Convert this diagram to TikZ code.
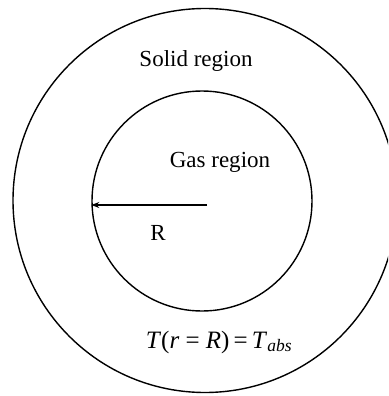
\documentclass[tikz,border=0pt]{standalone}
\usepackage{fontspec}
\setmainfont{Liberation Serif}
\usetikzlibrary{arrows.meta}

\begin{document}
\begin{tikzpicture}[x=1pt,y=-1pt,>={Stealth[length=8pt,width=6pt]},
  every node/.style={font=\fontsize{23}{27}\selectfont},
  region/.style={draw,circle,line width=1.4pt,inner sep=0pt}]
\useasboundingbox (0,0) rectangle (388,396);
\clip (0,0) rectangle (388,396);
% the two regions
\node[region,minimum size=384pt] (solid) at (205,200.5) {};
\node[region,minimum size=220pt] (gas) at (202,201) {};
\coordinate (ctr) at (207,205);
\draw[->,line width=1.1pt] (ctr)--(ctr -| gas.west);
% labels
\node (solidlbl) at (196,61) {Solid region};
\node (gaslbl) at (220,162) {Gas region};
\node (rlbl) at (158,233) {R};
\node[font=\fontsize{25}{29}\selectfont] (bc) at (219,342) {\textit{T}(\textit{r} = \textit{R})\,=\,\textit{T}\textsubscript{\textit{abs}}};
\end{tikzpicture}
\end{document}
